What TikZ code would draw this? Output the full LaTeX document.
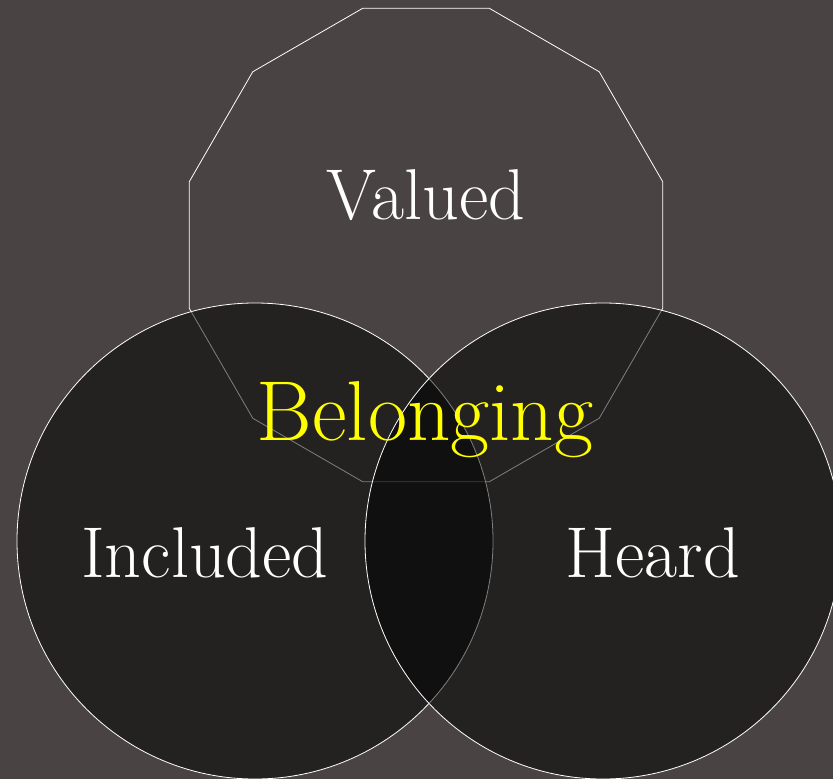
\documentclass[tikz,border=0pt]{standalone}
\usepackage{tikz}
\usetikzlibrary{shapes.geometric}
\definecolor{slidegray}{RGB}{74,67,68}
\definecolor{belongyellow}{RGB}{255,255,0}

\begin{document}
\begin{tikzpicture}[
    x=1pt, y=-1pt,
    every node/.style={inner sep=0pt},
    valuedshape/.style={regular polygon, regular polygon sides=12, draw=white, line width=0.8pt, minimum size=490pt},
    setcircle/.style={circle, draw=white, line width=0.8pt, fill=black, fill opacity=0.5, minimum size=476pt},
    setlabel/.style={text=white, font=\fontsize{72}{78}\selectfont},
    centerlabel/.style={text=belongyellow, font=\fontsize{85}{92}\selectfont}
]

% Background
\fill[slidegray] (0,0) rectangle (833,779);
\useasboundingbox (0,0) rectangle (833,779);

% Three sets
\node[valuedshape] (valued) at (426,245) {};
\node[setcircle] (included) at (255,541) {};
\node[setcircle] (heard) at (603,541) {};

% Labels
\node[setlabel] (valuedtext) at (426,195) {Valued};
\node[setlabel] (includedtext) at (205,553) {Included};
\node[setlabel] (heardtext) at (653,553) {Heard};
\node[centerlabel] (belonging) at (425,420) {Belonging};

\end{tikzpicture}
\end{document}
